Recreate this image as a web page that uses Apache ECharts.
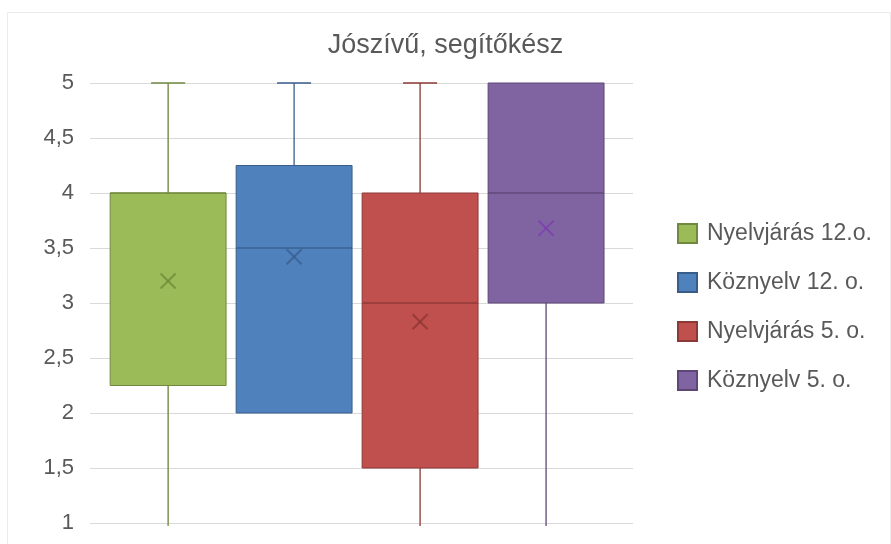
<!DOCTYPE html>
<html>
<head>
<meta charset="utf-8">
<script src="https://cdn.jsdelivr.net/npm/echarts@6/dist/echarts.min.js"></script>
<style>html,body{margin:0;padding:0;background:#fff}#c{width:891px;height:544px}</style>
</head>
<body>
<div id="c"></div>
<script>
const titleText = 'Jószívű, segítőkész';
const seriesNames = ['Nyelvjárás 12.o.', 'Köznyelv 12. o.', 'Nyelvjárás 5. o.', 'Köznyelv 5. o.'];
const minValues    = [1,    2,    1,    1];
const q1Values     = [2.25, 2,    1.5,  3];
const medianValues = [4,    3.5,  3,    4];
const q3Values     = [4,    4.25, 4,    5];
const maxValues    = [5,    5,    5,    5];
const meanValues   = [3.2,  3.42, 2.83, 3.68];
const yTicks = [1, 1.5, 2, 2.5, 3, 3.5, 4, 4.5, 5];

const fillColors   = ['#9BBB59', '#4F81BD', '#C0504D', '#8064A2'];
const strokeColors = ['#71893F', '#385D8A', '#8C3836', '#5C4776'];
const meanColors   = ['#6E8C3A', '#3A5F8E', '#8E3633', '#7A3FB0'];

const chart = echarts.init(document.getElementById('c'));

function makeRender(idx) {
  return function (params, api) {
    const x = api.value(0);
    const pMin = api.coord([x, api.value(1)]);
    const pQ1 = api.coord([x, api.value(2)]);
    const pMed = api.coord([x, api.value(3)]);
    const pQ3 = api.coord([x, api.value(4)]);
    const pMax = api.coord([x, api.value(5)]);
    const pMean = api.coord([x, api.value(6)]);
    const halfW = api.size([0.92, 0])[0] / 2;
    const capHalf = api.size([0.27, 0])[0] / 2;
    const cx = pQ1[0];
    const stroke = strokeColors[idx];
    const lw = 1.3;
    const children = [];
    if (pMax[1] < pQ3[1]) {
      children.push({type: 'line', shape: {x1: cx, y1: pQ3[1], x2: cx, y2: pMax[1]}, style: {stroke: stroke, lineWidth: lw}});
      children.push({type: 'line', shape: {x1: cx - capHalf, y1: pMax[1], x2: cx + capHalf, y2: pMax[1]}, style: {stroke: stroke, lineWidth: lw}});
    }
    if (pMin[1] > pQ1[1]) {
      children.push({type: 'line', shape: {x1: cx, y1: pQ1[1], x2: cx, y2: pMin[1] + 3}, style: {stroke: stroke, lineWidth: lw}});
    }
    children.push({type: 'rect', shape: {x: cx - halfW, y: pQ3[1], width: halfW * 2, height: pQ1[1] - pQ3[1]}, style: {fill: fillColors[idx], stroke: stroke, lineWidth: 1}});
    children.push({type: 'line', shape: {x1: cx - halfW, y1: pMed[1], x2: cx + halfW, y2: pMed[1]}, style: {stroke: stroke, lineWidth: lw, opacity: 0.9}});
    const m = 7.5;
    children.push({type: 'line', shape: {x1: pMean[0] - m, y1: pMean[1] - m, x2: pMean[0] + m, y2: pMean[1] + m}, style: {stroke: meanColors[idx], lineWidth: 2, opacity: 0.8}});
    children.push({type: 'line', shape: {x1: pMean[0] - m, y1: pMean[1] + m, x2: pMean[0] + m, y2: pMean[1] - m}, style: {stroke: meanColors[idx], lineWidth: 2, opacity: 0.8}});
    return {type: 'group', children: children};
  };
}

const series = seriesNames.map((name, i) => ({
  name: name,
  type: 'custom',
  renderItem: makeRender(i),
  clip: false,
  itemStyle: {color: fillColors[i], borderColor: strokeColors[i], borderWidth: 1},
  encode: {x: 0, y: [1, 2, 3, 4, 5, 6]},
  data: [[i, minValues[i], q1Values[i], medianValues[i], q3Values[i], maxValues[i], meanValues[i]]]
}));

chart.setOption({
  animation: false,
  backgroundColor: '#ffffff',
  graphic: [{
    type: 'rect', left: 5, top: 10, shape: {width: 883, height: 540},
    style: {fill: 'none', stroke: '#EBEBEB', lineWidth: 1}, silent: true
  }],
  title: {
    text: titleText,
    left: 'center',
    top: 27,
    textStyle: {fontFamily: 'Liberation Sans, Arial, sans-serif', fontSize: 27, fontWeight: 'normal', color: '#595959'}
  },
  legend: {
    orient: 'vertical',
    left: 672,
    top: 217,
    itemWidth: 19,
    itemHeight: 19,
    itemGap: 26,
    icon: 'rect',
    textStyle: {fontFamily: 'Liberation Sans, Arial, sans-serif', fontSize: 23, color: '#595959', lineHeight: 23, padding: [0, 0, 0, 5]},
    data: seriesNames
  },
  grid: {left: 90, right: 258, top: 83, bottom: 21, containLabel: false},
  xAxis: {
    type: 'value', min: -0.62, max: 3.69, show: false
  },
  yAxis: {
    type: 'value', min: yTicks[0], max: yTicks[yTicks.length - 1], interval: 0.5,
    axisLine: {show: true, lineStyle: {color: '#D9D9D9', width: 1}},
    axisTick: {show: false},
    splitLine: {show: true, lineStyle: {color: '#D9D9D9', width: 1}},
    axisLabel: {
      margin: 16, color: '#595959', fontSize: 22, fontFamily: 'Liberation Sans, Arial, sans-serif',
      formatter: v => String(v).replace('.', ',')
    }
  },
  series: series
});
</script>
</body>
</html>
